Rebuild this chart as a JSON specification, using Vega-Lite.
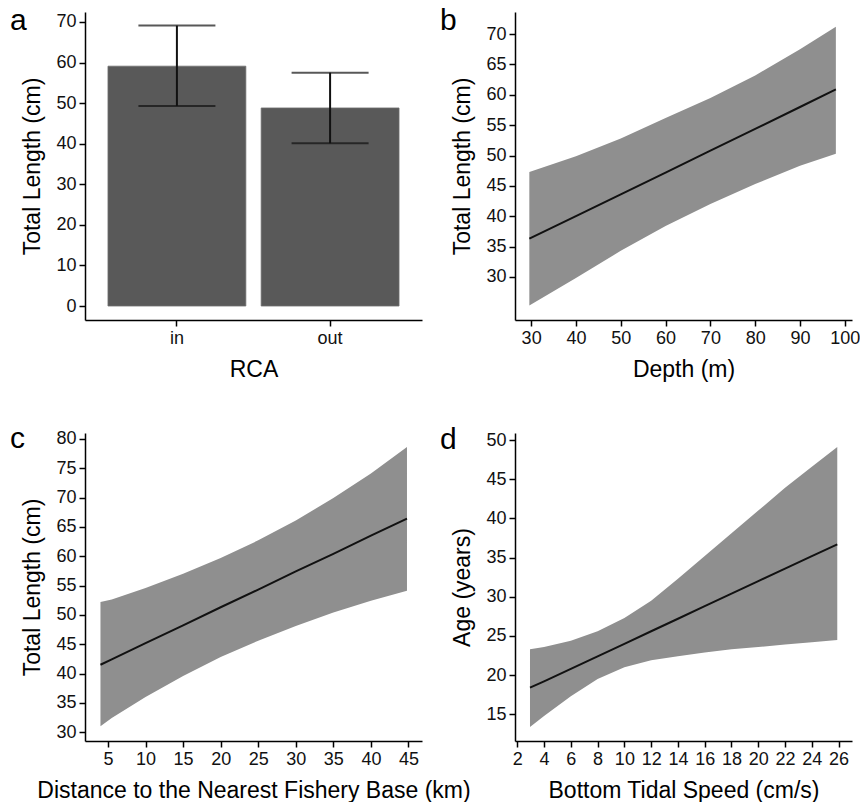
{
  "$schema": "https://vega.github.io/schema/vega-lite/v6.json",
  "padding": {"left": 10, "top": 6, "right": 0, "bottom": 0},
  "background": "white",
  "datasets": {
    "rca": [
      {"RCA": "in", "length": 59.1, "lo": 49.3, "hi": 69.1},
      {"RCA": "out", "length": 48.8, "lo": 40.1, "hi": 57.5}
    ],
    "depth": [
      {"depth": 29.6, "fit": 36.3, "lo": 25.3, "hi": 47.3},
      {"depth": 40, "fit": 40.0, "lo": 29.8, "hi": 49.9},
      {"depth": 50, "fit": 43.6, "lo": 34.3, "hi": 52.8},
      {"depth": 60, "fit": 47.2, "lo": 38.4, "hi": 56.2},
      {"depth": 70, "fit": 50.8, "lo": 42.0, "hi": 59.5},
      {"depth": 80, "fit": 54.4, "lo": 45.3, "hi": 63.2},
      {"depth": 90, "fit": 58.0, "lo": 48.3, "hi": 67.5},
      {"depth": 98, "fit": 60.9, "lo": 50.3, "hi": 71.2}
    ],
    "dist": [
      {"dist": 4.0, "fit": 41.5, "lo": 31.0, "hi": 52.2},
      {"dist": 5.5, "fit": 42.4, "lo": 32.4, "hi": 52.6},
      {"dist": 10, "fit": 45.2, "lo": 36.0, "hi": 54.6},
      {"dist": 15, "fit": 48.2, "lo": 39.6, "hi": 57.0},
      {"dist": 20, "fit": 51.3, "lo": 42.8, "hi": 59.7},
      {"dist": 25, "fit": 54.3, "lo": 45.6, "hi": 62.7},
      {"dist": 30, "fit": 57.4, "lo": 48.1, "hi": 66.1},
      {"dist": 35, "fit": 60.4, "lo": 50.4, "hi": 69.9},
      {"dist": 40, "fit": 63.5, "lo": 52.4, "hi": 74.1},
      {"dist": 44.8, "fit": 66.4, "lo": 54.1, "hi": 78.6}
    ],
    "tidal": [
      {"speed": 2.95, "fit": 18.4, "lo": 13.4, "hi": 23.3},
      {"speed": 4, "fit": 19.2, "lo": 14.8, "hi": 23.6},
      {"speed": 6, "fit": 20.8, "lo": 17.3, "hi": 24.4},
      {"speed": 8, "fit": 22.4, "lo": 19.5, "hi": 25.6},
      {"speed": 10, "fit": 24.0, "lo": 21.0, "hi": 27.3},
      {"speed": 12, "fit": 25.6, "lo": 21.9, "hi": 29.5},
      {"speed": 14, "fit": 27.2, "lo": 22.4, "hi": 32.3},
      {"speed": 16, "fit": 28.8, "lo": 22.9, "hi": 35.2},
      {"speed": 18, "fit": 30.4, "lo": 23.3, "hi": 38.1},
      {"speed": 20, "fit": 32.0, "lo": 23.6, "hi": 41.0},
      {"speed": 22, "fit": 33.6, "lo": 23.9, "hi": 43.9},
      {"speed": 24, "fit": 35.2, "lo": 24.2, "hi": 46.6},
      {"speed": 25.9, "fit": 36.7, "lo": 24.5, "hi": 49.1}
    ]
  },
  "columns": 2,
  "spacing": {"row": 113, "column": 93},
  "bounds": "flush",
  "align": "all",
  "concat": [
    {
      "title": {"text": "a"},
      "width": 337,
      "height": 308,
      "data": {"name": "rca"},
      "encoding": {
        "x": {"field": "RCA", "type": "nominal", "title": "RCA",
              "scale": {"paddingInner": 0.1, "paddingOuter": 0.15},
              "axis": {"labelAngle": 0}}
      },
      "layer": [
        {"mark": {"type": "bar", "color": "#595959", "stroke": "#6e6e6e", "strokeWidth": 0.8},
         "encoding": {"y": {"field": "length", "type": "quantitative", "title": "Total Length (cm)",
                            "scale": {"domain": [-3.45, 72.45], "nice": false, "zero": false},
                            "axis": {"values": [0, 10, 20, 30, 40, 50, 60, 70]}}}},
        {"mark": {"type": "rule", "color": "#111111", "strokeWidth": 2},
         "encoding": {"y": {"field": "lo", "type": "quantitative", "title": "Total Length (cm)",
                            "axis": {"values": [0, 10, 20, 30, 40, 50, 60, 70]}}, "y2": {"field": "hi"}}},
        {"mark": {"type": "tick", "color": "#111111", "thickness": 2, "size": 77},
         "encoding": {"y": {"field": "lo", "type": "quantitative", "title": "Total Length (cm)",
                            "axis": {"values": [0, 10, 20, 30, 40, 50, 60, 70]}}}},
        {"mark": {"type": "tick", "color": "#111111", "thickness": 2, "size": 77},
         "encoding": {"y": {"field": "hi", "type": "quantitative", "title": "Total Length (cm)",
                            "axis": {"values": [0, 10, 20, 30, 40, 50, 60, 70]}}}}
      ]
    },
    {
      "title": {"text": "b"},
      "width": 337,
      "height": 308,
      "data": {"name": "depth"},
      "encoding": {
        "x": {"field": "depth", "type": "quantitative", "title": "Depth (m)",
              "scale": {"domain": [26.4, 101.6], "nice": false, "zero": false},
              "axis": {"values": [30, 40, 50, 60, 70, 80, 90, 100]}}
      },
      "layer": [
        {"mark": {"type": "area", "color": "#8f8f8f", "opacity": 1},
         "encoding": {"y": {"field": "lo", "type": "quantitative", "title": "Total Length (cm)",
                            "scale": {"domain": [22.9, 73.65], "nice": false, "zero": false},
                            "axis": {"values": [30, 35, 40, 45, 50, 55, 60, 65, 70]}},
                      "y2": {"field": "hi"}}},
        {"mark": {"type": "line", "color": "#111111", "strokeWidth": 2},
         "encoding": {"y": {"field": "fit", "type": "quantitative", "title": "Total Length (cm)",
                            "axis": {"values": [30, 35, 40, 45, 50, 55, 60, 65, 70]}}}}
      ]
    },
    {
      "title": {"text": "c"},
      "width": 337,
      "height": 308,
      "data": {"name": "dist"},
      "encoding": {
        "x": {"field": "dist", "type": "quantitative", "title": "Distance to the Nearest Fishery Base (km)",
              "scale": {"domain": [1.94, 46.8], "nice": false, "zero": false},
              "axis": {"values": [5, 10, 15, 20, 25, 30, 35, 40, 45]}}
      },
      "layer": [
        {"mark": {"type": "area", "color": "#8f8f8f", "opacity": 1},
         "encoding": {"y": {"field": "lo", "type": "quantitative", "title": "Total Length (cm)",
                            "scale": {"domain": [28.5, 81.0], "nice": false, "zero": false},
                            "axis": {"values": [30, 35, 40, 45, 50, 55, 60, 65, 70, 75, 80]}},
                      "y2": {"field": "hi"}}},
        {"mark": {"type": "line", "color": "#111111", "strokeWidth": 2},
         "encoding": {"y": {"field": "fit", "type": "quantitative", "title": "Total Length (cm)",
                            "axis": {"values": [30, 35, 40, 45, 50, 55, 60, 65, 70, 75, 80]}}}}
      ]
    },
    {
      "title": {"text": "d"},
      "width": 337,
      "height": 308,
      "data": {"name": "tidal"},
      "encoding": {
        "x": {"field": "speed", "type": "quantitative", "title": "Bottom Tidal Speed (cm/s)",
              "scale": {"domain": [1.83, 27.0], "nice": false, "zero": false},
              "axis": {"values": [2, 4, 6, 8, 10, 12, 14, 16, 18, 20, 22, 24, 26]}}
      },
      "layer": [
        {"mark": {"type": "area", "color": "#8f8f8f", "opacity": 1},
         "encoding": {"y": {"field": "lo", "type": "quantitative", "title": "Age (years)",
                            "scale": {"domain": [11.6, 50.9], "nice": false, "zero": false},
                            "axis": {"values": [15, 20, 25, 30, 35, 40, 45, 50]}},
                      "y2": {"field": "hi"}}},
        {"mark": {"type": "line", "color": "#111111", "strokeWidth": 2},
         "encoding": {"y": {"field": "fit", "type": "quantitative", "title": "Age (years)",
                            "axis": {"values": [15, 20, 25, 30, 35, 40, 45, 50]}}}}
      ]
    }
  ],
  "config": {
    "font": "Liberation Sans",
    "view": {"stroke": null},
    "axis": {
      "grid": false,
      "labelFont": "Liberation Sans",
      "titleFont": "Liberation Sans",
      "labelFontSize": 18,
      "titleFontSize": 23,
      "titleFontWeight": "normal",
      "labelColor": "#111111",
      "titleColor": "#000000",
      "domainColor": "#000000",
      "tickColor": "#000000",
      "domainWidth": 1.5,
      "tickWidth": 1.5,
      "tickSize": 6,
      "labelPadding": 3,
      "titlePadding": 11,
      "labelOverlap": false,
      "labelFlush": false
    },
    "axisY": {"titlePadding": 11},
    "title": {
      "anchor": "start",
      "frame": "group",
      "orient": "top",
      "offset": 0,
      "dx": -75,
      "dy": 28,
      "fontSize": 30,
      "fontWeight": "normal",
      "baseline": "alphabetic",
      "color": "#000000",
      "font": "Liberation Sans"
    }
  }
}
